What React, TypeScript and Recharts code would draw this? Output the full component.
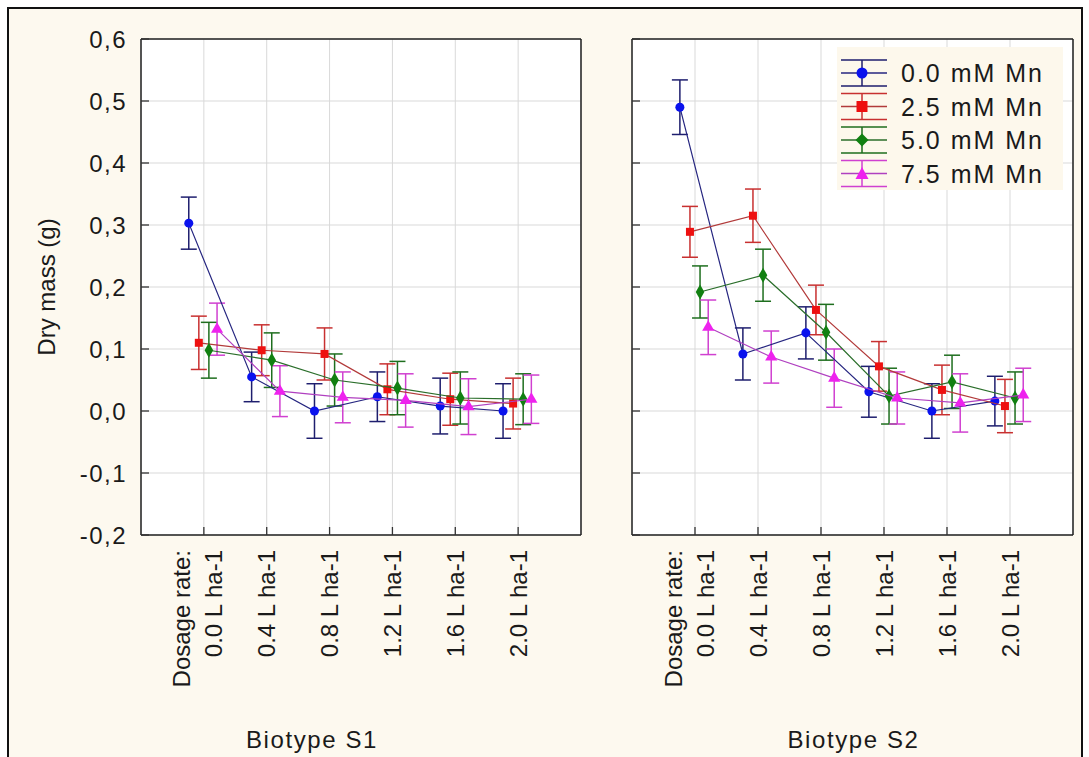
import {
  ComposedChart,
  Scatter,
  XAxis,
  YAxis,
  ZAxis,
  CartesianGrid,
  ErrorBar,
  Legend,
} from 'recharts'

const doseLabels = ['0.0 L ha-1', '0.4 L ha-1', '0.8 L ha-1', '1.2 L ha-1', '1.6 L ha-1', '2.0 L ha-1']
const doseHeader = 'Dosage rate:'
const mnLevels = ['0.0 mM Mn', '2.5 mM Mn', '5.0 mM Mn', '7.5 mM Mn']
const yTicks = [-0.2, -0.1, 0, 0.1, 0.2, 0.3, 0.4, 0.5, 0.6]
const xTicks = [1, 2, 3, 4, 5, 6]

// Biotype S1
const s1Mn00 = [0.303, 0.055, 0.0, 0.023, 0.008, 0.0]
const s1Mn00Err = [0.042, 0.04, 0.044, 0.04, 0.045, 0.044]
const s1Mn25 = [0.11, 0.098, 0.092, 0.035, 0.019, 0.012]
const s1Mn25Err = [0.043, 0.041, 0.042, 0.041, 0.042, 0.041]
const s1Mn50 = [0.098, 0.082, 0.05, 0.037, 0.021, 0.019]
const s1Mn50Err = [0.045, 0.044, 0.042, 0.043, 0.042, 0.041]
const s1Mn75 = [0.132, 0.032, 0.022, 0.017, 0.007, 0.019]
const s1Mn75Err = [0.042, 0.041, 0.041, 0.043, 0.045, 0.039]

// Biotype S2
const s2Mn00 = [0.49, 0.092, 0.126, 0.031, 0.0, 0.016]
const s2Mn00Err = [0.044, 0.042, 0.042, 0.041, 0.044, 0.04]
const s2Mn25 = [0.289, 0.315, 0.163, 0.072, 0.034, 0.008]
const s2Mn25Err = [0.041, 0.043, 0.04, 0.04, 0.04, 0.043]
const s2Mn50 = [0.192, 0.219, 0.127, 0.024, 0.047, 0.021]
const s2Mn50Err = [0.042, 0.042, 0.045, 0.045, 0.043, 0.042]
const s2Mn75 = [0.135, 0.087, 0.053, 0.021, 0.013, 0.026]
const s2Mn75Err = [0.044, 0.042, 0.047, 0.042, 0.047, 0.043]

const FONT = '"Liberation Sans", Arial, sans-serif'
const INK = '#1a1a1a'

// marker / line / error colours and the small horizontal dodge of each series
const look = [
  { fill: '#0a12ee', line: '#262680', err: '#1e1e6e', shape: 'circle', off: -0.24 },
  { fill: '#ee1010', line: '#b23a3a', err: '#c83030', shape: 'square', off: -0.08 },
  { fill: '#118011', line: '#2a6e2a', err: '#1e6e1e', shape: 'diamond', off: 0.08 },
  { fill: '#ee22ee', line: '#b040c0', err: '#d040d0', shape: 'triangle', off: 0.21 },
] as const

const toRows = (vals: number[], errs: number[], off: number) =>
  vals.map((y, i) => ({ x: i + 1 + off, y, err: errs[i] }))

const fmtY = (v: number) => v.toFixed(1).replace('.', ',')

// eslint-disable-next-line @typescript-eslint/no-explicit-any
function LeftTick({ x, y, payload, showText }: any) {
  return (
    <g>
      <line x1={x} y1={y} x2={x + 8} y2={y} stroke="#333" strokeWidth={1.3} />
      {showText && (
        <text x={x - 14} y={y} dy="0.36em" textAnchor="end" fontSize={24} letterSpacing={1.5} fill={INK} fontFamily={FONT}>
          {fmtY(payload.value)}
        </text>
      )}
    </g>
  )
}

// eslint-disable-next-line @typescript-eslint/no-explicit-any
function RightTick({ x, y }: any) {
  return <line x1={x} y1={y} x2={x - 8} y2={y} stroke="#333" strokeWidth={1.3} />
}

// eslint-disable-next-line @typescript-eslint/no-explicit-any
function TopTick({ x, y }: any) {
  return <line x1={x} y1={y} x2={x} y2={y + 8} stroke="#333" strokeWidth={1.3} />
}

// eslint-disable-next-line @typescript-eslint/no-explicit-any
function BottomTick({ x, y, payload }: any) {
  const i = payload.value - 1
  const lines: [string, number][] = i === 0 ? [[doseHeader, -22], [doseLabels[0], 10]] : [[doseLabels[i], 0]]
  const ty = y + 15
  return (
    <g>
      <line x1={x} y1={y} x2={x} y2={y - 8} stroke="#333" strokeWidth={1.3} />
      {lines.map(([t, dx]) => (
        <text
          key={t}
          x={x + dx}
          y={ty}
          dy="0.36em"
          textAnchor="end"
          transform={`rotate(-90 ${x + dx} ${ty})`}
          fontSize={24}
          fill={INK}
          fontFamily={FONT}
        >
          {t}
        </text>
      ))}
    </g>
  )
}

function LegendBox() {
  return (
    <svg width={226} height={143} style={{ display: 'block', background: '#fdf8ec' }}>
      {mnLevels.map((name, i) => {
        const c = look[i]
        const cy = 26 + i * 33.5
        const mx = 25
        let marker
        if (c.shape === 'circle') marker = <circle cx={mx} cy={cy} r={5.5} fill={c.fill} />
        else if (c.shape === 'square') marker = <rect x={mx - 5.5} y={cy - 5.5} width={11} height={11} fill={c.fill} />
        else if (c.shape === 'diamond')
          marker = <polygon points={`${mx},${cy - 6.5} ${mx + 6.5},${cy} ${mx},${cy + 6.5} ${mx - 6.5},${cy}`} fill={c.fill} />
        else marker = <polygon points={`${mx},${cy - 6.5} ${mx + 6.5},${cy + 5.5} ${mx - 6.5},${cy + 5.5}`} fill={c.fill} />
        return (
          <g key={name}>
            <line x1={4} x2={50} y1={cy - 13} y2={cy - 13} stroke={c.err} strokeWidth={1.5} />
            <line x1={4} x2={50} y1={cy + 13} y2={cy + 13} stroke={c.err} strokeWidth={1.5} />
            <line x1={mx} x2={mx} y1={cy - 13} y2={cy + 13} stroke={c.err} strokeWidth={1.5} />
            <line x1={4} x2={50} y1={cy} y2={cy} stroke={c.line} strokeWidth={1.5} />
            {marker}
            <text x={64} y={cy} dy="0.36em" fontSize={25} letterSpacing={2} fill={INK} fontFamily={FONT}>
              {name}
            </text>
          </g>
        )
      })}
    </svg>
  )
}

interface PanelProps {
  width: number
  yAxisWidth: number
  marginRight: number
  showYText: boolean
  title: string
  titleDx: number
  series: { vals: number[]; errs: number[] }[]
  legend?: boolean
}

function Panel({ width, yAxisWidth, marginRight, showYText, title, titleDx, series, legend }: PanelProps) {
  return (
    <ComposedChart width={width} height={757} margin={{ top: 38, right: marginRight, bottom: 0, left: 0 }}>
      <CartesianGrid stroke="#d9d9d9" fill="#ffffff" fillOpacity={1} />
      <XAxis
        dataKey="x"
        type="number"
        domain={[0, 7]}
        ticks={xTicks}
        interval={0}
        height={222}
        tickSize={0}
        tickMargin={0}
        tickLine={false}
        axisLine={{ stroke: '#222', strokeWidth: 1.5 }}
        tick={<BottomTick />}
        label={(p: any) => {
          const vb = p.viewBox
          return (
            <text
              x={vb.x + vb.width / 2 + titleDx}
              y={vb.y + 213}
              textAnchor="middle"
              fontSize={24}
              letterSpacing={1.6}
              fill={INK}
              fontFamily={FONT}
            >
              {title}
            </text>
          )
        }}
      />
      <XAxis
        xAxisId="top"
        orientation="top"
        type="number"
        domain={[0, 7]}
        ticks={xTicks}
        interval={0}
        height={1}
        tickSize={0}
        tickMargin={0}
        tickLine={false}
        axisLine={{ stroke: '#222', strokeWidth: 1.5 }}
        tick={<TopTick />}
      />
      <YAxis
        dataKey="y"
        type="number"
        domain={[-0.2, 0.6]}
        ticks={yTicks}
        interval={0}
        width={yAxisWidth}
        tickSize={0}
        tickMargin={0}
        tickLine={false}
        axisLine={{ stroke: '#222', strokeWidth: 1.5 }}
        tick={<LeftTick showText={showYText} />}
        label={
          showYText
            ? (p: any) => {
                const vb = p.viewBox
                const cx = vb.x + 46
                const cy = vb.y + vb.height / 2
                return (
                  <text
                    x={cx}
                    y={cy}
                    dy="0.36em"
                    textAnchor="middle"
                    transform={`rotate(-90 ${cx} ${cy})`}
                    fontSize={24}
                    fill={INK}
                    fontFamily={FONT}
                  >
                    Dry mass (g)
                  </text>
                )
              }
            : undefined
        }
      />
      <YAxis
        yAxisId="r"
        orientation="right"
        type="number"
        domain={[-0.2, 0.6]}
        ticks={yTicks}
        interval={0}
        width={1}
        tickSize={0}
        tickMargin={0}
        tickLine={false}
        axisLine={{ stroke: '#222', strokeWidth: 1.5 }}
        tick={<RightTick />}
      />
      <ZAxis type="number" range={[130, 130]} />
      {series.map((s, i) => {
        const c = look[i]
        return (
          <Scatter
            key={mnLevels[i]}
            name={mnLevels[i]}
            data={toRows(s.vals, s.errs, c.off)}
            fill={c.fill}
            shape={c.shape}
            line={{ stroke: c.line, strokeWidth: 1.2 }}
            isAnimationActive={false}
          >
            <ErrorBar dataKey="err" direction="y" width={8} stroke={c.err} strokeWidth={1.5} />
          </Scatter>
        )
      })}
      {legend && (
        <Legend
          layout="vertical"
          align="center"
          verticalAlign="middle"
          content={<LegendBox />}
          wrapperStyle={{ left: 237, top: 47, width: 226, height: 143 }}
        />
      )}
    </ComposedChart>
  )
}

export default function App() {
  return (
    <div style={{ position: 'absolute', left: 0, top: 0, width: 1089, height: 757, overflow: 'hidden', background: '#fff' }}>
      <div
        style={{
          position: 'absolute',
          left: 7,
          top: 7,
          width: 1076,
          height: 800,
          border: '2px solid #111',
          boxSizing: 'border-box',
          background: '#fdf9ef',
        }}
      />
      <div style={{ position: 'absolute', left: 0, top: 0 }}>
        <Panel
          width={600}
          yAxisWidth={141}
          marginRight={18}
          showYText
          title="Biotype S1"
          titleDx={-49}
          series={[
            { vals: s1Mn00, errs: s1Mn00Err },
            { vals: s1Mn25, errs: s1Mn25Err },
            { vals: s1Mn50, errs: s1Mn50Err },
            { vals: s1Mn75, errs: s1Mn75Err },
          ]}
        />
      </div>
      <div style={{ position: 'absolute', left: 600, top: 0 }}>
        <Panel
          width={489}
          yAxisWidth={32}
          marginRight={15}
          showYText={false}
          title="Biotype S2"
          titleDx={1}
          legend
          series={[
            { vals: s2Mn00, errs: s2Mn00Err },
            { vals: s2Mn25, errs: s2Mn25Err },
            { vals: s2Mn50, errs: s2Mn50Err },
            { vals: s2Mn75, errs: s2Mn75Err },
          ]}
        />
      </div>
    </div>
  )
}
